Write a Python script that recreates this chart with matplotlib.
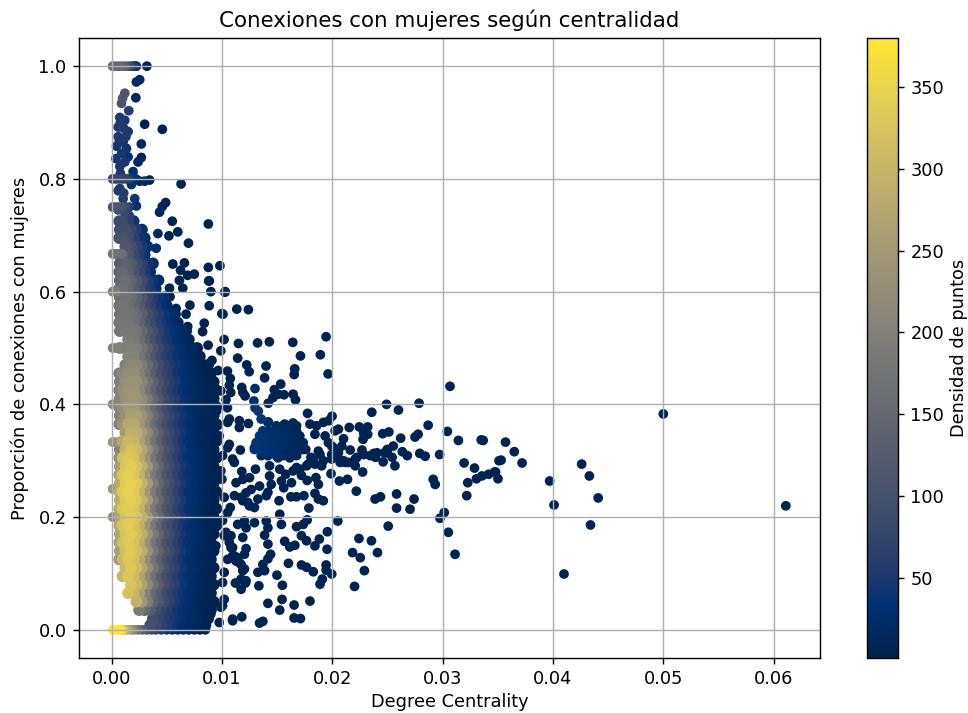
#!/usr/bin/env python3
import numpy as np
import matplotlib
matplotlib.use("Agg")
import matplotlib.pyplot as plt

cloud_x_even = [.0007, .001, .0015, .002, .0025, .003, .0035, .004, .0045, .005,
                .0055, .006, .0065, .007, .0075, .008, .0085, .009, .0095]
cloud_x_odd = [.00075, .00125, .00175, .00225, .00275, .00325, .00375, .00425, .00475, .00525,
               .00575, .00625, .00675, .00725, .00775, .00825, .00875, .00925]
cloud_y = [.008, .02, .035, .05, .065, .08, .095, .11, .125, .14, .155, .17, .185, .2, .215,
           .23, .245, .26, .275, .29, .305, .32, .335, .35, .365, .38, .395, .41, .425, .44,
           .455, .47, .485, .5, .515, .53, .545, .56, .575, .59, .605, .62, .635, .65, .665,
           .68, .695, .71, .725]
cloud_d = [
    [0, 0, 0, 0, 0, 0, 100, 85, 68, 55, 42, 32, 24, 16, 12, 8, 5],
    [0, 0, 0, 0, 0, 0, 90, 75, 60, 50, 40, 30, 22, 15, 12, 8, 5],
    [0, 0, 0, 0, 190, 150, 120, 95, 75, 60, 45, 35, 25, 18, 12, 8, 5, 3],
    [0, 0, 0, 295, 245, 190, 140, 110, 85, 65, 50, 38, 28, 20, 14, 9, 6, 3],
    [0, 0, 320, 300, 260, 205, 155, 120, 90, 70, 55, 40, 30, 22, 15, 10, 6, 4],
    [0, 0, 325, 305, 265, 215, 165, 125, 95, 75, 58, 42, 32, 23, 16, 11, 7, 4],
    [0, 300, 328, 310, 270, 220, 170, 130, 100, 78, 60, 44, 33, 24, 17, 11, 7, 4],
    [0, 305, 330, 312, 275, 225, 175, 135, 102, 80, 62, 45, 34, 25, 17, 12, 7, 4],
    [250, 310, 332, 315, 280, 230, 178, 138, 105, 82, 63, 46, 35, 25, 18, 12, 8, 4],
    [260, 315, 335, 318, 285, 232, 180, 140, 107, 84, 64, 47, 35, 26, 18, 12, 8, 4],
    [265, 318, 335, 320, 287, 235, 182, 142, 108, 85, 65, 48, 36, 26, 18, 12, 8, 5],
    [270, 320, 337, 322, 290, 238, 185, 144, 110, 86, 66, 48, 36, 27, 19, 13, 8, 5],
    [275, 325, 338, 325, 292, 240, 187, 146, 112, 88, 67, 49, 37, 27, 19, 13, 8, 5, 2],
    [270, 325, 338, 326, 294, 242, 188, 148, 113, 89, 68, 50, 37, 27, 19, 13, 8, 5, 2],
    [280, 330, 340, 328, 296, 245, 190, 150, 115, 90, 69, 50, 38, 28, 20, 13, 9, 5, 2],
    [285, 332, 342, 330, 298, 247, 192, 152, 116, 91, 70, 51, 38, 28, 20, 14, 9, 5, 2],
    [285, 335, 345, 332, 300, 248, 193, 152, 117, 91, 70, 51, 38, 28, 20, 14, 9, 5, 2],
    [280, 335, 345, 332, 298, 247, 193, 152, 117, 91, 70, 51, 38, 28, 20, 14, 9, 5, 2],
    [265, 330, 342, 330, 295, 245, 190, 150, 115, 90, 69, 50, 38, 28, 20, 14, 9, 5, 2],
    [255, 325, 338, 325, 290, 240, 187, 147, 112, 88, 67, 49, 37, 27, 20, 13, 9, 5, 2],
    [230, 315, 330, 318, 283, 235, 183, 143, 110, 86, 65, 48, 36, 27, 19, 13, 8, 5, 2],
    [200, 300, 320, 310, 275, 228, 178, 140, 107, 84, 64, 47, 35, 26, 19, 13, 8, 5, 2],
    [0, 280, 305, 300, 268, 222, 173, 135, 104, 82, 62, 46, 34, 25, 18, 12, 8, 5, 2],
    [0, 250, 292, 288, 258, 215, 168, 131, 100, 79, 60, 45, 33, 25, 18, 12, 8, 5, 2],
    [200, 240, 275, 275, 247, 207, 162, 126, 97, 76, 58, 43, 32, 24, 17, 11, 7, 5, 2],
    [205, 235, 262, 262, 238, 200, 157, 122, 94, 74, 56, 42, 31, 23, 16, 11, 7, 4, 2],
    [195, 230, 250, 250, 228, 192, 152, 118, 91, 71, 54, 41, 30, 22, 15, 10, 7, 4, 2],
    [205, 232, 242, 242, 222, 185, 146, 113, 87, 68, 52, 39, 29, 21, 15, 10, 6, 4, 2],
    [200, 228, 238, 238, 215, 178, 140, 108, 83, 65, 50, 37, 28, 20, 14, 9, 6, 4, 2],
    [195, 225, 232, 232, 208, 172, 135, 103, 79, 62, 48, 35, 26, 19, 13, 9, 6, 3, 2],
    [190, 215, 225, 225, 200, 165, 128, 98, 75, 59, 45, 33, 25, 18, 12, 8, 5, 3],
    [0, 200, 215, 215, 190, 156, 120, 92, 70, 55, 42, 31, 23, 16, 11, 7, 4],
    [0, 0, 205, 205, 180, 147, 113, 86, 66, 51, 39, 29, 21, 15, 10, 6],
    [180, 195, 200, 195, 170, 138, 105, 80, 61, 47, 36, 26, 19, 13, 8],
    [0, 0, 190, 185, 160, 128, 97, 74, 56, 43, 32, 23, 16, 11],
    [175, 185, 185, 175, 150, 118, 90, 68, 51, 38, 28, 20, 14],
    [175, 180, 178, 165, 140, 108, 82, 62, 46, 34, 24, 16],
    [170, 178, 172, 155, 128, 98, 74, 55, 40, 28, 18],
    [170, 175, 165, 145, 118, 88, 66, 48, 33, 22],
    [165, 170, 158, 135, 108, 78, 57, 40, 26],
    [160, 165, 150, 125, 98, 68, 48, 32],
    [150, 160, 142, 115, 88, 60, 40, 24],
    [140, 150, 132, 105, 78, 52, 32],
    [125, 135, 120, 92, 68, 44, 26],
    [120, 125, 110, 82, 58, 36],
    [0, 115, 100, 72, 50, 30],
    [100, 105, 90, 62, 42, 24],
    [90, 95, 78, 52, 34],
    [80, 85, 65, 42],
]

# franjas horizontales de proporciones exactas
stripe_x = [.0001, .0004, .0007, .001, .0013, .0016, .0019, .0022]
stripe_y = [1.0, .8, .75, .667, .6, .5, .4, .333, .25, .2]
stripe_d = [
    [150, 150, 150, 140, 125, 90, 60, 40],
    [75, 75, 75, 70, 65, 55, 40, 30],
    [110, 110, 105, 100, 80, 60],
    [170, 170, 165, 160],
    [190, 190],
    [200, 200, 200, 195, 190, 190],
    [210, 210],
    [235, 235, 230],
    [240, 240, 235],
    [220, 220],
]
zero_x = [.0001, .0003, .0005, .0007, .0009, .0011, .0014, .0017, .002, .0024, .0028, .0032,
          .0036, .004, .0045, .005, .0055, .006, .0065, .007, .0075, .008, .0085]
zero_d = [380, 380, 380, 375, 360, 320, 280, 240, 200, 165, 130, 105, 85, 70, 55, 45, 35,
          28, 20, 15, 10, 7, 4]

# parte alta, puntos sueltos con densidad media
top_x = [.0032, .00225, .00195, .00255, .00225, .0022, .0012, .001, .0009, .00156, .003, .0046,
         .00075, .0012, .0006, .0015, .0006, .00105, .0027, .00045, .00135, .0004, .0015, .0027,
         .0024, .00075, .00195, .00255, .003, .00345, .00075, .0006, .00105, .0021, .00225,
         .0049, .0046, .00435, .0042, .00405,
         .0008, .0011, .0007, .0013, .0009, .0012, .0008, .0011, .0018, .0006, .0012, .0016]
top_y = [1.0, 1.0, 1.0, .976, .972, .944, .952, .943, .934, .921, .897, .888,
         .909, .904, .892, .884, .875, .866, .862, .858, .854, .836, .839, .838,
         .83, .822, .813, .796, .796, .798, .783, .779, .765, .765, .752,
         .758, .751, .741, .703, .677,
         .9, .89, .865, .875, .845, .83, .81, .775, .79, .745, .74, .735]
top_d = [8, 30, 35, 20, 20, 15, 110, 110, 105, 60, 8, 5,
         55, 50, 50, 45, 50, 45, 15, 45, 40, 45, 35, 15,
         20, 50, 30, 12, 10, 8, 55, 55, 60, 40, 30,
         8, 10, 12, 15, 25,
         55, 55, 50, 50, 48, 48, 50, 60, 35, 85, 80, 65]

# puntos dispersos de baja densidad
far_x = [.0063, .0055, .00877, .0052, .006, .00697, .00555, .0066, .00625, .0075, .0069, .00615,
         .00877, .00982, .00886, .009, .01027, .00645, .00525, .0053, .00435, .00585, .0054, .00675,
         .0071, .00885, .0101, .01135, .0124, .0084, .00825, .0069, .0066, .0051, .00555,
         .0088, .0103, .01, .01944, .0102, .0115, .01323, .0143, .01642, .00875, .0099,
         .01712, .01892, .01143, .0091, .01225, .014, .01247, .0166, .01655, .01962, .01387,
         .00966, .0105, .01076, .01067, .0118, .01533, .01475, .0099, .0108, .0119, .0121,
         .0151, .01563, .01645, .01667, .01463, .0142, .01037, .0105,
         .03067, .02492, .02787, .026, .02358, .01776, .01998, .01968, .02869, .02154, .02245,
         .02321, .03043, .02513, .02457, .02285, .02321, .02279, .0262, .02778, .0275, .03143,
         .03368, .02102, .02056, .02026, .02553, .02498, .02473, .02635, .0268, .02793, .02842,
         .02973, .02163, .02269, .02285, .02376, .02391, .02461, .02543, .02568, .02208, .02208,
         .02275, .02117, .02072, .02041, .01995, .03195, .03289, .03511, .03502, .03472, .03417,
         .03356, .03307, .03228, .03219, .02915, .02933, .01989, .02065, .02138, .02218, .02583,
         .02741, .02437, .02388, .02583, .02705, .03015, .02976, .0205, .02507, .03052, .03113,
         .02242, .02355, .0241, .02184, .02254, .02291, .02202, .01956, .01883, .01843, .01953,
         .01944, .01944, .01995, .0191, .01889, .01798, .01828, .01721, .01767, .01603, .01499,
         .01548, .01335, .01545, .01524, .01417, .01654, .01654, .01712, .01371, .01341, .0118,
         .01097, .01006, .01021, .01122, .01174, .01213, .01326, .01387, .01371, .01441, .01417,
         .01417, .01569, .01615, .01661, .01721, .01767, .01219, .01204, .01189, .01143, .01128,
         .01174, .01082, .01189, .01097, .01402, .01417, .01387, .01295, .01143, .01219, .01204,
         .01524, .01539, .01676, .01737, .01773, .01788, .01518, .01625, .01676, .01743, .01843,
         .01874, .01919, .01076, .01006, .01128, .01189, .0125, .0118, .01304, .01113, .01174,
         .01219, .01265, .01341, .01326, .01295, .01249, .01189, .01235, .01432, .01447, .01417,
         .01402, .01539, .0156, .0163, .01773, .01852, .01874, .01432, .01524, .01578, .01676,
         .01721, .01807, .01874, .01904, .01843, .01782, .01995,
         .0500, .0611, .0401, .0397, .0426, .0433, .0441, .0434, .0410, .0372, .0365, .0357,
         .0353, .0335, .0348,
         .01798, .01858, .01919, .01843, .01935, .01965, .02087, .02011, .02056, .01995, .01919,
         .01889, .01828, .01767, .01706, .01645, .02102, .02148, .02224, .02345, .02406, .02498,
         .01067, .01052, .01158, .01158, .0124, .00951, .0096, .01067, .01052, .01167, .01097,
         .01113, .00976, .01006, .00991, .01, .01021, .01052,
         .01021, .01067, .01082, .01113, .01006, .01021, .01052, .00945, .00991, .00976, .009,
         .00854, .01097, .01037, .01158, .01204, .01174, .01219, .01097]
far_y = [.791, .725, .72, .699, .706, .686, .649, .651, .638, .631, .629, .62,
         .643, .646, .619, .6, .599, .606, .606, .591, .579, .57, .564, .56,
         .576, .575, .56, .569, .568, .544, .529, .538, .526, .544, .535,
         .619, .6, .561, .52, .515, .508, .509, .511, .51, .505, .495,
         .486, .488, .482, .478, .47, .468, .458, .463, .453, .454, .447,
         .46, .459, .446, .434, .43, .436, .426, .424, .421, .421, .415,
         .418, .417, .418, .408, .412, .402, .408, .394,
         .432, .4, .402, .39, .386, .384, .379, .371, .363, .359, .36,
         .36, .352, .351, .348, .349, .347, .338, .34, .347, .342, .336,
         .336, .339, .356, .353, .326, .32, .314, .316, .309, .313, .308,
         .311, .319, .319, .311, .313, .306, .298, .306, .291, .303, .291,
         .28, .297, .297, .309, .303, .296, .287, .3, .268, .28, .276,
         .273, .268, .261, .238, .267, .258, .277, .264, .267, .246, .241,
         .232, .236, .232, .216, .214, .208, .198, .193, .184, .173, .134,
         .162, .158, .137, .137, .128, .105, .077, .174, .161, .149, .143,
         .115, .106, .099, .09, .081, .051, .103, .115, .111, .118, .097,
         .079, .078, .054, .035, .047, .044, .021, .02, .015, .012, .023,
         .019, .043, .054, .083, .072, .083, .102, .105, .116, .134, .126,
         .152, .157, .147, .15, .167, .158, .144, .134, .105, .128, .122,
         .116, .167, .164, .146, .193, .181, .168, .19, .187, .181, .193,
         .205, .187, .183, .187, .195, .216, .229, .236, .236, .238, .242,
         .232, .229, .217, .194, .261, .267, .27, .281, .285, .238, .235,
         .243, .249, .255, .232, .217, .22, .229, .226, .273, .258, .244,
         .238, .264, .252, .261, .265, .27, .258, .291, .285, .276, .288,
         .274, .306, .317, .291, .294, .294, .326,
         .383, .22, .2216, .264, .294, .273, .234, .186, .099, .296, .316, .333,
         .301, .337, .28,
         .365, .362, .368, .347, .344, .332, .326, .323, .314, .311, .3,
         .311, .3, .291, .285, .282, .3, .297, .306, .309, .314, .314,
         .374, .368, .371, .359, .366, .388, .362, .329, .323, .319, .303,
         .297, .344, .309, .282, .267, .235, .208,
         .167, .155, .146, .131, .084, .102, .125, .149, .04, .013, .028,
         .019, .016, .173, .119, .108, .09, .087, .131]

# grupo denso cerca de (0.015, 0.33) y cadena clara hacia arriba
blob_x = [.01295, .01341, .01371, .01417, .01356, .01402, .01447, .01493, .01524, .01569, .01645,
          .016, .01676, .01721, .01737, .01676, .01615, .01554, .01508, .01463, .01539, .01584,
          .0163, .01417, .01478, .0131, .013, .0129, .013, .0133, .01356, .0142,
          .01493, .01554, .01615, .01676,
          .01371, .01432, .01493, .01554, .01615, .01676,
          .01341, .01402, .01463, .01524, .01584, .01645, .01706,
          .01326, .01386, .01447, .01508, .01569, .0163, .01691, .01737,
          .01295, .01356, .01417, .01478, .01539, .016, .01661, .01722, .0176,
          .01356, .01417, .01493, .01554, .01615, .01676]
blob_y = [.323, .338, .35, .368, .32, .314, .323, .338, .356, .365, .367,
          .35, .344, .332, .32, .314, .305, .31, .305, .314, .326, .332,
          .338, .338, .35, .332, .428, .406, .394, .388, .374, .369,
          .362, .362, .362, .362,
          .353, .353, .353, .353, .353, .353,
          .344, .344, .344, .344, .344, .344, .344,
          .332, .332, .332, .332, .332, .332, .332, .332,
          .32, .32, .32, .32, .32, .32, .32, .32, .32,
          .309, .309, .309, .309, .309, .309]
blob_d = [30, 35, 35, 25, 32, 35, 30, 28, 20, 15, 12,
          20, 15, 12, 10, 15, 15, 20, 22, 28, 25, 20,
          18, 32, 28, 30, 25, 30, 40, 40, 35, 25,
          18, 15, 12, 10,
          30, 25, 20, 16, 12, 10,
          35, 30, 24, 20, 15, 12, 8,
          38, 34, 28, 22, 18, 14, 10, 8,
          38, 34, 30, 25, 20, 15, 12, 8, 6,
          20, 18, 15, 12, 10, 8]
FAR_D = 4

cx, cy, cd = [], [], []
for i, (yi, row) in enumerate(zip(cloud_y, cloud_d)):
    xs = cloud_x_even if i % 2 == 0 else cloud_x_odd
    for xi, di in zip(xs, row):
        if di > 0:
            cx.append(xi); cy.append(yi); cd.append(di)

x, y, d = [], [], []
for yi, row in zip(stripe_y, stripe_d):
    for xi, di in zip(stripe_x, row):
        x.append(xi); y.append(yi); d.append(di)
for xi, di in zip(zero_x, zero_d):
    x.append(xi); y.append(0.0); d.append(di)
x += top_x + far_x + blob_x
y += top_y + far_y + blob_y
d += top_d + [FAR_D] * len(far_x) + blob_d

# tamano por punto: la nube va algo mas gorda para cerrar huecos
all_x = np.array(x + cx)
all_y = np.array(y + cy)
all_d = np.array(d + cd, dtype=float)
all_s = np.array([20] * len(x) + [32] * len(cx))
order = np.argsort(all_d)  # los mas densos encima

DPI = 128
fig = plt.figure(figsize=(968.01 / DPI, 713.01 / DPI), dpi=DPI)
ax = fig.add_axes([79 / 968, 1 - 658 / 713, 741 / 968, 620 / 713])
cax = fig.add_axes([867 / 968, 1 - 658 / 713, 31 / 968, 620 / 713])

sc = ax.scatter(all_x[order], all_y[order], c=all_d[order], s=all_s[order],
                cmap="cividis", vmin=1, vmax=380)
ax.set_xlim(-0.00295, 0.0642)
ax.set_ylim(-0.05, 1.05)
ax.set_xticks([0, .01, .02, .03, .04, .05, .06])
ax.set_xlabel("Degree Centrality", labelpad=2.5)
ax.set_ylabel("Proporción de conexiones con mujeres", labelpad=5)
ax.set_title("Conexiones con mujeres según centralidad", fontsize=12)
ax.grid(True)

cb = fig.colorbar(sc, cax=cax)
cb.set_label("Densidad de puntos", labelpad=3)

fig.savefig("out.png", dpi=DPI)
plt.close(fig)
